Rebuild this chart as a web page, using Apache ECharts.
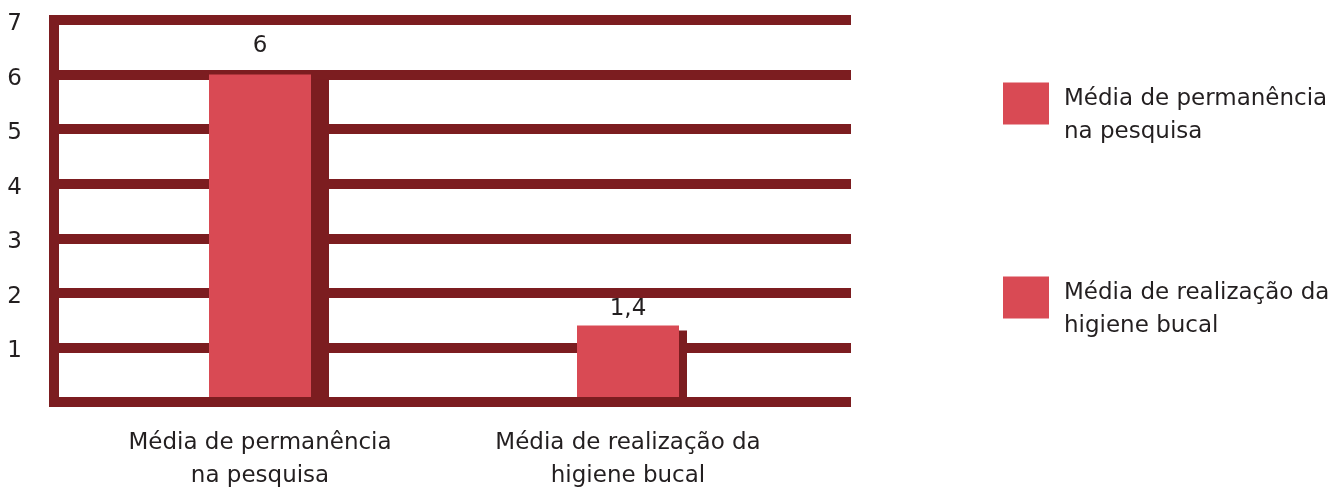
<!DOCTYPE html>
<html>
<head>
<meta charset="utf-8">
<script src="https://cdn.jsdelivr.net/npm/echarts@6/dist/echarts.min.js"></script>
<style>
html,body{margin:0;padding:0;background:#fff;}
#chart{width:1344px;height:489px;}
</style>
</head>
<body>
<div id="chart"></div>
<script>
const categories = ['Média de permanência\nna pesquisa', 'Média de realização da\nhigiene bucal'];
const values = [6, 1.4];
const yMin = 0, yMax = 7, yStep = 1;

const DARK = '#7c1d20';
const BAR = '#d94a54';
const TXT = '#231f20';
const FONT = 'DejaVu Sans';

const shadowX = [18, 8];
const shadowY = [5, 5];
const labelDist = [17, 5];

const series = categories.map((name, i) => ({
  name: name,
  type: 'bar',
  xAxisIndex: 1,
  yAxisIndex: 1,
  barWidth: 102,
  barGap: '-100%',
  z: 3,
  data: categories.map((c, j) => (j === i ? values[i] : '-')),
  itemStyle: {
    color: BAR,
    shadowColor: DARK,
    shadowBlur: 0,
    shadowOffsetX: shadowX[i],
    shadowOffsetY: shadowY[i]
  },
  label: {
    show: true,
    position: 'top',
    distance: labelDist[i],
    color: TXT,
    fontFamily: FONT,
    fontSize: 23,
    formatter: p => String(p.value).replace('.', ',')
  }
}));

const chart = echarts.init(document.getElementById('chart'), null, {renderer: 'canvas'});
chart.setOption({
  animation: false,
  backgroundColor: '#fff',
  grid: [
    {left: 54, right: 1344 - 846, top: 20, bottom: 489 - 402, outerBoundsMode: 'none', containLabel: false},
    {left: 76, width: 736, top: 20, bottom: 489 - 402, outerBoundsMode: 'none', containLabel: false}
  ],
  xAxis: [
    {
      type: 'value', gridIndex: 0, min: 0, max: 1, z: 5,
      axisLine: {show: true, onZero: false, lineStyle: {color: DARK, width: 10, cap: 'square'}},
      axisTick: {show: false}, axisLabel: {show: false}, splitLine: {show: false}
    },
    {
      type: 'category', gridIndex: 1, data: categories,
      axisLine: {show: false}, axisTick: {show: false},
      axisLabel: {color: TXT, fontFamily: FONT, fontSize: 23, lineHeight: 33, margin: 25, interval: 0}
    }
  ],
  yAxis: [
    {
      type: 'value', gridIndex: 0, min: yMin, max: yMax, interval: yStep, z: 1,
      axisLine: {show: true, lineStyle: {color: DARK, width: 10, cap: 'square'}},
      axisTick: {show: false},
      axisLabel: {color: TXT, fontFamily: FONT, fontSize: 23, margin: 32,
        formatter: v => (v === 0 ? '' : '{v|' + v + '}'),
        rich: {v: {color: TXT, fontFamily: FONT, fontSize: 23, padding: [8, 0, 0, 0]}}},
      splitLine: {show: true, lineStyle: {color: DARK, width: 10, cap: 'square'}}
    },
    {
      type: 'value', gridIndex: 1, min: yMin, max: yMax, interval: yStep, show: false,
      splitLine: {show: false}
    }
  ],
  legend: {
    orient: 'vertical',
    left: 998,
    top: 53,
    itemWidth: 46,
    itemHeight: 42,
    itemGap: 103,
    icon: 'rect',
    data: categories,
    formatter: n => '{s|}\n' + n.split('\n').map(t => '{t|' + t + '}').join('\n'),
    textStyle: {
      color: TXT, fontFamily: FONT, fontSize: 23, lineHeight: 33, padding: [0, 0, 0, 10],
      rich: {
        s: {lineHeight: 25, height: 25, fontSize: 10},
        t: {color: TXT, fontFamily: FONT, fontSize: 23, lineHeight: 33}
      }
    }
  },
  series: series
});
</script>
</body>
</html>
